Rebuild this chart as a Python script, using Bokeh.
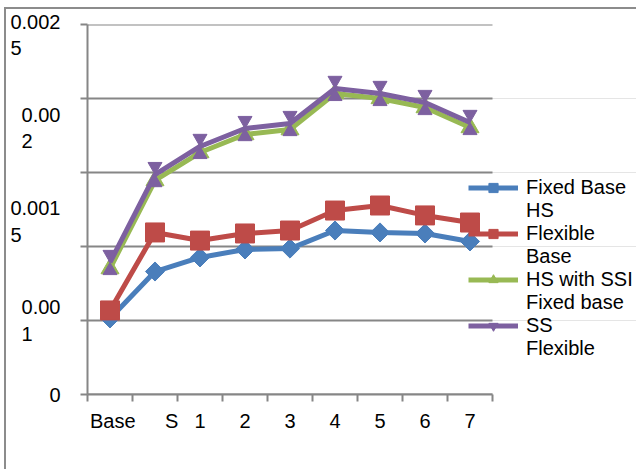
from bokeh.plotting import figure
from bokeh.models import FixedTicker, LinearAxis, Range1d, Legend, LegendItem
from bokeh.embed import file_html
from bokeh.resources import INLINE

# Storeys along the x axis
categories = ["Base", "S", "1", "2", "3", "4", "5", "6", "7"]
# The "S" label sits right of its slot, so it is padded with non-breaking spaces
NB = "\u00a0"
category_labels = [NB + "Base", NB * 6 + "S", "1", "2", "3", "4", "5", "6", "7"]

# Series values (drift ratio)
fixed_base_hs = [0.000514, 0.000831, 0.000926, 0.000980, 0.000986, 0.001108, 0.001095, 0.001088, 0.001034]
flexible_base = [0.000568, 0.001095, 0.001040, 0.001088, 0.001108, 0.001243, 0.001277, 0.001210, 0.001162]
hs_ssi_fixed = [0.000851, 0.001446, 0.001635, 0.001757, 0.001790, 0.002034, 0.002000, 0.001939, 0.001804]
ss_flexible = [0.000892, 0.001486, 0.001676, 0.001797, 0.001831, 0.002068, 0.002034, 0.001973, 0.001838]

# Legend names, each wrapped over two lines
series_names = [("Fixed Base", "HS"), ("Flexible", "Base"), ("HS with SSI", "Fixed base"), ("SS", "Flexible")]

# Gridline values and the wrapped y tick labels with where they sit
# (second lines padded so they read left-aligned under the first line)
grid_values = [0, 0.0005, 0.001, 0.0015, 0.002, 0.0025]
y_label_text = ["0", "0.00\n1" + NB * 5, "0.001\n5" + NB * 7, "0.00\n2" + NB * 5, "0.002\n5" + NB * 7]
y_label_at = [0, 0.0005, 0.00117, 0.0018, 0.00243]

FONT = "Liberation Sans"
GREY = "#868686"
BLUE, RED, GREEN, PURPLE = "#4A7EBB", "#BE4B48", "#98B954", "#7D60A0"

W, H = 632, 462
LEFT, TOP, BOTTOM = 81, 15, 77
SLOT_PX = 45
Y_MIN, Y_MAX = 0, 0.0025

n = len(categories)
x_start = -0.5
x_end = x_start + (W - LEFT) / SLOT_PX   # frame runs to the right edge; the legend sits over it

p = figure(width=W, height=H, x_range=Range1d(x_start, x_end),
           y_range=Range1d(Y_MIN, Y_MAX), y_axis_location=None,
           output_backend="svg", toolbar_location=None,
           min_border_left=LEFT, min_border_top=TOP,
           min_border_bottom=BOTTOM, min_border_right=0)
p.outline_line_color = None
p.xgrid.visible = False
p.background_fill_color = "white"
p.border_fill_color = "white"
p.styles = {"margin-left": "4px", "margin-top": "7px",
            "border-left": "2px solid #8c8c8c", "border-top": "2px solid #8c8c8c"}

# Horizontal gridlines spanning the category slots only
p.segment(x0=[x_start] * len(grid_values), x1=[n - 0.5] * len(grid_values),
          y0=grid_values, y1=grid_values, line_color=GREY, line_width=2)

# Inner y axis: line and tick marks only
inner = LinearAxis(ticker=FixedTicker(ticks=grid_values),
                   major_label_overrides={v: "" for v in grid_values},
                   major_label_standoff=0, major_tick_in=0, major_tick_out=7,
                   axis_line_color=GREY, axis_line_width=2,
                   major_tick_line_color=GREY, major_tick_line_width=2,
                   minor_tick_line_color=None)
p.add_layout(inner, "left")

# Outer y axis: wrapped labels only
outer = LinearAxis(ticker=FixedTicker(ticks=y_label_at),
                   major_label_overrides=dict(zip(y_label_at, y_label_text)),
                   major_label_standoff=14,
                   axis_line_color=None, major_tick_line_color=None,
                   minor_tick_line_color=None,
                   major_label_text_font=FONT, major_label_text_font_size="20px",
                   major_label_text_color="black")
p.add_layout(outer, "left")

# x axis: labels at the slot centres, tick marks at the slot boundaries
xs = list(range(n))
xa = p.xaxis[0]
xa.bounds = (x_start, n - 0.5)
xa.ticker = FixedTicker(ticks=xs, minor_ticks=[i - 0.5 for i in range(n + 1)])
xa.major_label_overrides = dict(zip(xs, category_labels))
xa.major_tick_line_color = None
xa.minor_tick_line_color = GREY
xa.minor_tick_line_width = 2
xa.minor_tick_in = 0
xa.minor_tick_out = 7
xa.axis_line_color = GREY
xa.axis_line_width = 2
xa.major_label_standoff = 8
xa.major_label_text_font = FONT
xa.major_label_text_font_size = "20px"
xa.major_label_text_color = "black"

frame_h = H - TOP - BOTTOM
per_px = (Y_MAX - Y_MIN) / frame_h

series_renderers = []

l1 = p.line(xs, fixed_base_hs, line_color=BLUE, line_width=5)
m1 = p.scatter(xs, fixed_base_hs, marker="square", angle=0.785398, size=13.5,
               fill_color=BLUE, line_color=BLUE)
series_renderers.append([l1, m1])

l2 = p.line(xs, flexible_base, line_color=RED, line_width=5)
m2 = p.scatter(xs, flexible_base, marker="square", size=19,
               fill_color=RED, line_color=RED)
series_renderers.append([l2, m2])

l3 = p.line(xs, hs_ssi_fixed, line_color=GREEN, line_width=5)
m3 = p.scatter(xs, hs_ssi_fixed, marker="triangle", size=18,
               fill_color=GREEN, line_color=GREEN)
series_renderers.append([l3, m3])

# Hourglass marker: two triangles meeting tip to tip at each point
tri = 14
dy = 0.577 * tri * per_px
l4 = p.line(xs, ss_flexible, line_color=PURPLE, line_width=5)
m4a = p.scatter(xs, [v + dy for v in ss_flexible], marker="inverted_triangle", size=tri,
                fill_color=PURPLE, line_color=PURPLE)
m4b = p.scatter(xs, [v - dy for v in ss_flexible], marker="triangle", size=tri,
                fill_color=PURPLE, line_color=PURPLE)
series_renderers.append([l4, m4a])

# Legend: swatch beside the first line of each name, second line on its own row
items = []
for (first, second), rends in zip(series_names, series_renderers):
    items.append(LegendItem(label=first, renderers=rends))
    items.append(LegendItem(label=second, renderers=[]))

legend = Legend(items=items, location=(381, 34), glyph_width=50, glyph_height=23,
                label_standoff=8, spacing=0, padding=0, margin=0,
                border_line_color=None, background_fill_alpha=0,
                label_text_font=FONT, label_text_font_size="20px",
                label_text_color="black")
p.add_layout(legend)

open("out.html", "w").write(file_html(p, INLINE))
